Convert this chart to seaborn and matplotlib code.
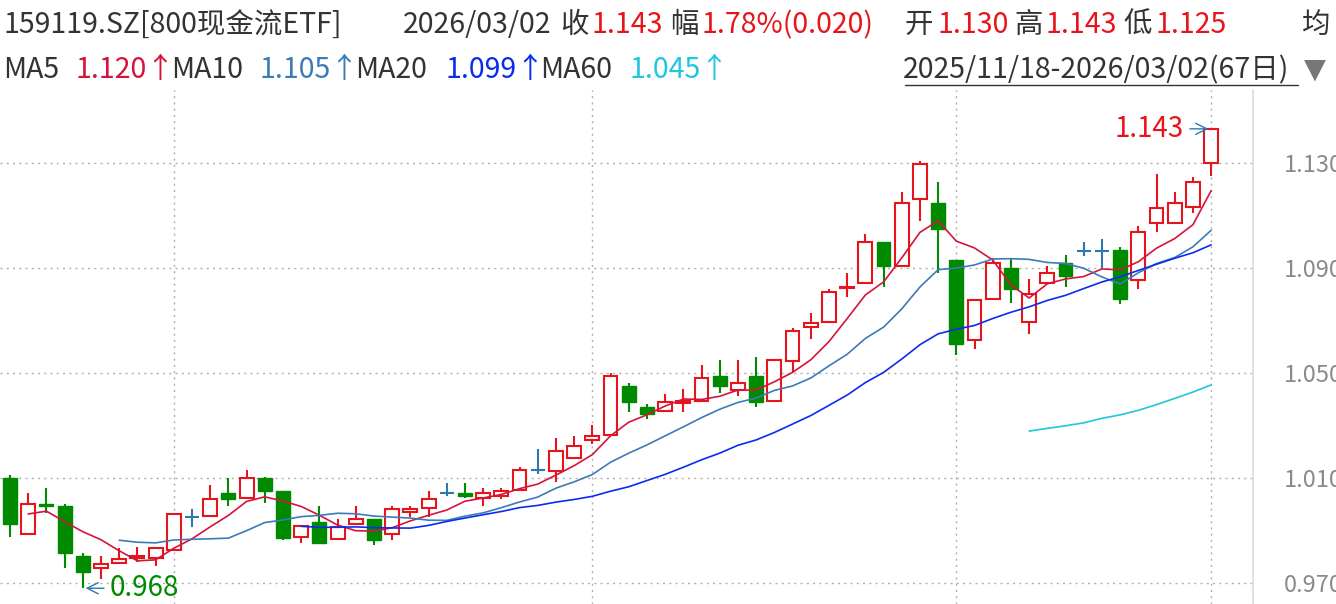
import numpy as np
import pandas as pd
import matplotlib
matplotlib.use("Agg")
import matplotlib.pyplot as plt
import seaborn as sns

opens = [1.010,0.9887,1.000,0.9993,0.9803,0.9757,0.9776,0.9795,0.9795,0.9826,
         0.9951,0.9955,1.0043,1.0024,1.010,1.005,0.9875,0.9932,0.9867,0.9925,
         0.9943,0.9887,0.9970,0.9986,1.0043,1.0043,1.0024,1.0031,1.0054,1.0130,
         1.0127,1.0176,1.0245,1.0264,1.0450,1.0370,1.0355,1.0386,1.0393,1.0489,
         1.0435,1.0489,1.0393,1.0546,1.0675,1.0694,1.0824,1.0843,1.0999,1.0908,
         1.1163,1.1148,1.0930,1.0626,1.0782,1.0900,1.0694,1.0843,1.0919,1.0965,
         1.0965,1.0969,1.0854,1.1071,1.1071,1.1132,1.130]
closes = [0.9925,1.0001,0.9995,0.9814,0.9742,0.9772,0.9791,0.9803,0.9833,0.9963,
          0.9951,1.0020,1.0020,1.010,1.005,0.9871,0.9917,0.9852,0.9913,0.9943,
          0.9863,0.9982,0.9982,1.0020,1.0043,1.0031,1.0043,1.0050,1.0130,1.0130,
          1.0203,1.0222,1.0260,1.0489,1.0389,1.0344,1.0389,1.0393,1.0481,1.0450,
          1.0462,1.0389,1.0550,1.0660,1.0690,1.0809,1.0828,1.0999,1.0908,1.1148,
          1.1296,1.1049,1.0610,1.0778,1.0919,1.0820,1.0801,1.0881,1.0870,1.0965,
          1.0965,1.0782,1.1037,1.1129,1.1148,1.1228,1.143]
highs = [1.011,1.0043,1.0062,1.000,0.9814,0.9803,0.9833,0.9837,0.9835,0.9967,
         0.9982,1.0073,1.010,1.013,1.0102,1.0052,0.992,0.9993,0.9943,0.9993,
         0.9945,0.9993,0.9993,1.0050,1.0081,1.0081,1.0062,1.0062,1.0142,1.021,
         1.0253,1.0260,1.0302,1.050,1.0462,1.0382,1.042,1.0439,1.053,1.0551,
         1.055,1.0561,1.0552,1.0672,1.0728,1.0820,1.0881,1.1029,1.100,1.119,
         1.1308,1.1228,1.0932,1.0780,1.0938,1.0938,1.0858,1.0908,1.0949,1.0999,
         1.1010,1.098,1.106,1.1258,1.119,1.1247,1.143]
lows = [0.9875,0.9885,0.9967,0.9757,0.968,0.9715,0.9774,0.9780,0.9765,0.9824,
        0.9913,0.9953,0.9993,1.0022,1.0005,0.9864,0.9852,0.985,0.9865,0.9923,
        0.9844,0.9863,0.9951,0.9951,1.003,1.0024,0.9993,1.0020,1.0052,1.0115,
        1.0085,1.0174,1.0229,1.0262,1.0351,1.0325,1.0353,1.0351,1.039,1.0424,
        1.0412,1.0370,1.039,1.0504,1.0629,1.0692,1.0789,1.0841,1.0828,1.0906,
        1.1079,1.0881,1.0568,1.0591,1.078,1.0767,1.0648,1.0841,1.0828,1.0946,
        1.090,1.0763,1.082,1.1037,1.107,1.1110,1.125]
ytick_vals = [0.970, 1.010, 1.050, 1.090, 1.130]
month_idx = [9, 32, 52, 66]

RED = "#e8141c"; GREEN = "#008a00"; CROSS = "#2d78ad"
MA_COLORS = {"MA5": "#d4143c", "MA10": "#3b7bb8", "MA20": "#0a2cf0", "MA60": "#20c6dc"}
MA_START = {"MA5": 1, "MA10": 6, "MA20": 16, "MA60": 56}

sns.set_theme(style="white")
plt.rcParams['font.family'] = ['Noto Sans CJK SC', 'DejaVu Sans']

df = pd.DataFrame({"o": opens, "h": highs, "l": lows, "c": closes})
df["i"] = np.arange(len(df))

fig = plt.figure(figsize=(13.36, 6.04), dpi=100)
ax = fig.add_axes([0, 0, 1253/1336, (604-90)/604])
ax.set_xlim(-0.55, 68.3)
ax.set_ylim(0.962, 1.1578)

for y in ytick_vals:
    ax.axhline(y, color="#b0b0b0", ls=(0, (1.5, 3)), lw=1, zorder=0)
for m in month_idx:
    ax.axvline(m, color="#b0b0b0", ls=(0, (1.5, 3)), lw=1, zorder=0)

w = 0.76
for _, r in df.iterrows():
    i, o, h, l, c = r.i, r.o, r.h, r.l, r.c
    if abs(c - o) < 1e-9:
        ax.vlines(i, l, h, color=CROSS, lw=1.5, zorder=2)
        ax.hlines(c, i - w/2, i + w/2, color=CROSS, lw=1.5, zorder=2)
    elif c > o:
        ax.vlines(i, c, h, color=RED, lw=1.5, zorder=2)
        ax.vlines(i, l, o, color=RED, lw=1.5, zorder=2)
        ax.bar(i, c - o, bottom=o, width=w, facecolor="white", edgecolor=RED, lw=1.5, zorder=3)
    else:
        ax.vlines(i, l, h, color=GREEN, lw=1.5, zorder=2)
        ax.bar(i, max(o - c, 0.0006), bottom=c, width=w, facecolor=GREEN, edgecolor=GREEN, lw=1, zorder=3)

for name, n in [("MA5", 5), ("MA10", 10), ("MA20", 20), ("MA60", 60)]:
    ma = df["c"].rolling(n, min_periods=1).mean()
    sub = pd.DataFrame({"i": df["i"], "v": ma}).iloc[MA_START[name]:]
    sns.lineplot(data=sub, x="i", y="v", ax=ax, color=MA_COLORS[name], lw=1.2, zorder=4)

ax.set_xlabel(""); ax.set_ylabel("")
ax.set_xticks([])
ax.yaxis.tick_right()
ax.set_yticks(ytick_vals)
ax.set_yticklabels([f"{v:.3f}" for v in ytick_vals], color="#8a8a8a", fontsize=17)
ax.tick_params(axis="y", length=0, pad=22)
for s in ["left", "top", "bottom"]:
    ax.spines[s].set_visible(False)
ax.spines["right"].set_color("#dddddd")

imin = int(np.argmin(lows)); imax = int(np.argmax(highs))
ax.annotate("0.968", xy=(imin, lows[imin]), xytext=(imin + 1.5, lows[imin]),
            color=GREEN, fontsize=20, va="center", ha="left",
            arrowprops=dict(arrowstyle="->", color=CROSS, lw=1))
ax.annotate("1.143", xy=(imax, highs[imax]), xytext=(imax - 1.5, highs[imax]),
            color=RED, fontsize=20, va="center", ha="right",
            arrowprops=dict(arrowstyle="->", color=CROSS, lw=1))

def t(x, y, s, c, **kw):
    fig.text(x/1336, 1 - y/604, s, color=c, fontsize=20.5, va="center", ha="left", **kw)
DK = "#333333"
t(3, 25, "159119.SZ[800现金流ETF]", DK)
t(403, 25, "2026/03/02", DK)
t(560, 25, "收", DK); t(592, 25, "1.143", RED)
t(670, 25, "幅", DK); t(702, 25, "1.78%(0.020)", RED)
t(905, 25, "开", DK); t(937, 25, "1.130", RED)
t(1014, 25, "高", DK); t(1046, 25, "1.143", RED)
t(1123, 25, "低", DK); t(1155, 25, "1.125", RED)
t(1302, 25, "均", DK)
t(3, 70, "MA5", DK); t(76, 70, "1.120↑", MA_COLORS["MA5"])
t(171, 70, "MA10", DK); t(260, 70, "1.105↑", MA_COLORS["MA10"])
t(355, 70, "MA20", DK); t(445, 70, "1.099↑", MA_COLORS["MA20"])
t(540, 70, "MA60", DK); t(630, 70, "1.045↑", MA_COLORS["MA60"])
t(903, 70, "2025/11/18-2026/03/02(67日)", DK)
fig.lines.append(plt.Line2D([905/1336, 1298/1336], [1-85/604, 1-85/604], color=DK, lw=1, transform=fig.transFigure))
t(1304, 70, "▼", "#777777", family=["DejaVu Sans"])

fig.savefig("out.png", dpi=100, facecolor="white")
